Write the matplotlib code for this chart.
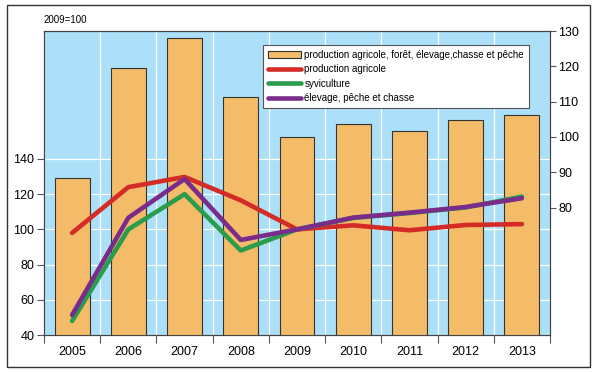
import numpy as np
import matplotlib
matplotlib.use('Agg')
import matplotlib.pyplot as plt
from matplotlib.patches import Rectangle

plt.rcParams['font.family'] = ['Liberation Sans', 'DejaVu Sans']

# donnees (2009=100)
years = ['2005', '2006', '2007', '2008', '2009', '2010', '2011', '2012', '2013']
total = [88.5, 119.5, 128.0, 111.2, 100.0, 103.6, 101.6, 104.7, 106.1]
agri = [98.0, 124.0, 129.8, 116.5, 100.0, 102.3, 99.5, 102.5, 103.0]
sylvi = [48.0, 100.0, 120.0, 88.0, 100.0, 106.5, 109.3, 112.5, 118.6]
elevage = [51.4, 106.6, 128.6, 94.0, 100.0, 106.7, 109.5, 112.7, 117.7]

left_ticks = [40, 60, 80, 100, 120, 140]
right_ticks = [80, 90, 100, 110, 120, 130]

bg = '#abe0f8'
c_bar = '#f4bb69'
c_red = '#d42b27'
c_green = '#2a9c4c'
c_purple = '#7a2c8a'
c_spine = '#444444'

fig = plt.figure(figsize=(5.98, 3.72), dpi=100)
fig.patches.append(Rectangle((7 / 598, 5 / 372), 583 / 598, 362 / 372,
                             transform=fig.transFigure, fill=False,
                             edgecolor='#333333', linewidth=1.0))

ax = fig.add_axes([44 / 598, 1 - 335 / 372, 506 / 598, 304 / 372])
ax.set_facecolor(bg)
x = np.arange(len(years))

# axe de gauche (indices des lignes) + grille
ax.set_ylim(40, 212.7)
ax.set_xlim(-0.5, len(years) - 0.5)
ax.set_yticks(left_ticks)
ax.set_xticks(np.arange(-0.5, len(years), 1))
ax.set_xticklabels([])
ax.set_xticks(x, minor=True)
ax.set_xticklabels(years, minor=True, fontsize=9)
ax.tick_params(axis='x', which='minor', length=0, pad=8)
ax.tick_params(axis='x', which='major', length=6, color='#555555')
ax.tick_params(axis='y', labelsize=9, length=5, color='#555555', pad=2)
ax.grid(True, which='major', color='white', linewidth=0.9)
ax.set_axisbelow(True)
for s in ax.spines.values():
    s.set_color(c_spine)
    s.set_linewidth(0.8)

# barres sur l'axe de droite
axb = ax.twinx()
axb.set_ylim(43.9, 130)
axb.set_yticks(right_ticks)
axb.tick_params(axis='y', labelsize=9, length=4, color='#555555', pad=2)
bars = axb.bar(x, total, width=0.62, color=c_bar, edgecolor='#333333',
               linewidth=0.8, label='production agricole, forêt, élevage,chasse et pêche')
for s in axb.spines.values():
    s.set_color(c_spine)
    s.set_linewidth(0.8)

# lignes sur l'axe de gauche
axl = ax.twinx()
axl.set_ylim(40, 212.7)
axl.set_yticks([])
axl.set_xlim(-0.5, len(years) - 0.5)
l1, = axl.plot(x, agri, color=c_red, linewidth=3.3, solid_capstyle='round',
               label='production agricole')
l2, = axl.plot(x, sylvi, color=c_green, linewidth=3.3, solid_capstyle='round',
               label='syviculture')
l3, = axl.plot(x, elevage, color=c_purple, linewidth=3.3, solid_capstyle='round',
               label='élevage, pêche et chasse')
for s in axl.spines.values():
    s.set_visible(False)

leg = axl.legend(handles=[bars, l1, l2, l3], loc='upper right',
                 bbox_to_anchor=(0.958, 0.954), borderaxespad=0, fontsize=7,
                 fancybox=False, framealpha=1, edgecolor='#555555',
                 handlelength=3.4, handletextpad=0.3, labelspacing=0.45,
                 borderpad=0.5)
leg.get_frame().set_linewidth(0.8)

fig.text(44 / 598, 1 - 20 / 372, '2009=100', fontsize=7, va='center', ha='left')

fig.savefig('out.png', dpi=100)
